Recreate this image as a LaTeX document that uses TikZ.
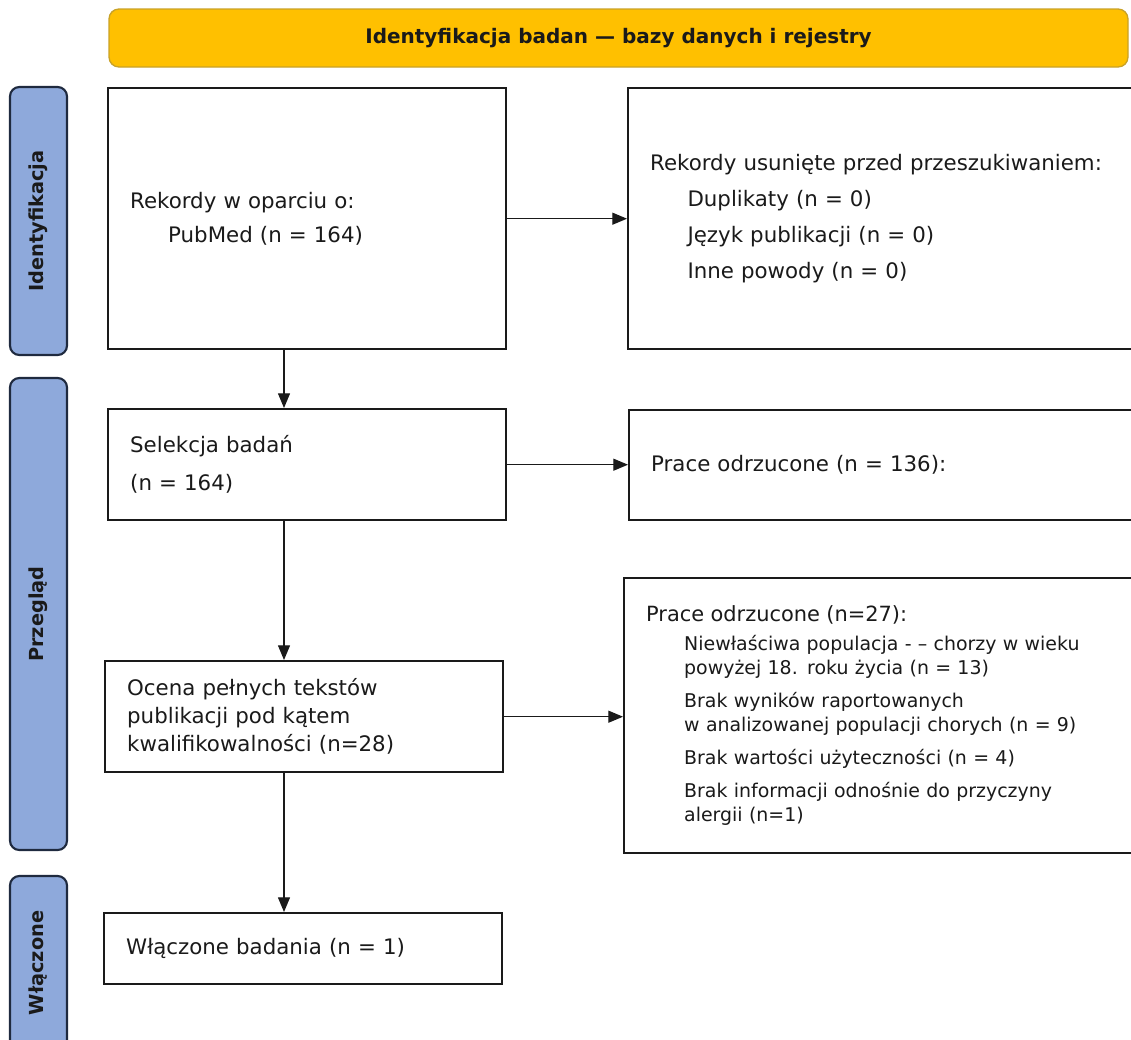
\documentclass[tikz,border=0pt]{standalone}
\usepackage{fontspec}
\setmainfont{DejaVu Sans}
\usepackage{xcolor}
\usepackage{tikz}
\usetikzlibrary{arrows.meta,positioning}
\definecolor{goldx}{HTML}{FFC000}
\definecolor{goldline}{HTML}{C9A227}
\definecolor{bluex}{HTML}{8EA9DB}
\definecolor{navyx}{HTML}{1F2A3F}
\definecolor{inkx}{HTML}{1A1A1A}
\tikzset{
  ar/.style={-{Triangle[length=11pt,width=9pt]},line width=0.9pt,inkx},
  box/.style={draw=inkx,line width=1.8pt,fill=white,anchor=north west,align=left,inner xsep=16.5pt,inner ysep=0pt,text=inkx},
  phase/.style={draw=navyx,line width=1.6pt,fill=bluex,rounded corners=7pt,rotate=90,minimum height=42.75pt,
    font=\bfseries\fontsize{14.5}{17}\selectfont,text=inkx},
  banner/.style={draw=goldline,line width=1pt,fill=goldx,rounded corners=7.5pt,minimum width=764.25pt,minimum height=43.5pt,
    font=\bfseries\fontsize{15}{18}\selectfont,text=inkx}
}

\begin{document}
\begin{tikzpicture}[x=0.75pt,y=-0.75pt]
\useasboundingbox (0,0) rectangle (1131,1039);
\clip (0,0) rectangle (1131,1039);
% header and phase bars
\node[banner] (head) at (618.5,38) {Identyfikacja badan — bazy danych i rejestry};
\node[phase,minimum width=201pt] (phid) at (38.5,221) {Identyfikacja};
\node[phase,minimum width=354pt] (phrev) at (38.5,614) {Przegląd};
\node[phase,minimum width=130.5pt] (phinc) at (38.5,963) {Włączone};
% left column
\node[box,text width=265.5pt,minimum height=195.75pt,font=\fontsize{16}{26}\selectfont] (rec) at (107,87)
  {Rekordy w oparciu o:\\\hspace*{28.5pt}PubMed (n = 164)};
\node[box,text width=265.5pt,minimum height=83.25pt,font=\fontsize{16}{28.5}\selectfont] (sel) at (107,408)
  {Selekcja badań\\(n = 164)};
\node[box,text width=265.5pt,minimum height=83.25pt,font=\fontsize{16}{21}\selectfont] (full) at (104,660)
  {Ocena pełnych tekstów\\publikacji pod kątem\\kwalifikowalności (n=28)};
\node[box,text width=265.5pt,minimum height=53.25pt,font=\fontsize{16}{19}\selectfont] (incl) at (103,912)
  {Włączone badania (n = 1)};
% right column
\node[box,text width=358pt,minimum height=195.75pt,font=\fontsize{16}{27}\selectfont] (removed) at (627,87)
  {Rekordy usunięte przed przeszukiwaniem:\\
   \hspace*{28pt}Duplikaty (n = 0)\\
   \hspace*{28pt}Język publikacji (n = 0)\\
   \hspace*{28pt}Inne powody (n = 0)};
\node[box,text width=358pt,minimum height=82.5pt,font=\fontsize{16}{19}\selectfont] (excl1) at (628,409)
  {Prace odrzucone (n = 136):};
\node[box,text width=361pt,minimum height=206.25pt,font=\fontsize{14.2}{18.4}\selectfont] (excl2) at (623,577)
  {{\fontsize{15.7}{18}\selectfont Prace odrzucone (n=27):}\\[3pt]
   \hspace*{28.5pt}Niewłaściwa populacja - – chorzy w wieku\\
   \hspace*{28.5pt}powyżej 18. roku życia (n = 13)\\[6pt]
   \hspace*{28.5pt}Brak wyników raportowanych\\
   \hspace*{28.5pt}w analizowanej populacji chorych (n = 9)\\[6pt]
   \hspace*{28.5pt}Brak wartości użyteczności (n = 4)\\[6pt]
   \hspace*{28.5pt}Brak informacji odnośnie do przyczyny\\
   \hspace*{28.5pt}alergii (n=1)};
% connectors
\coordinate (ax) at (284,0);
\draw[ar] (rec.south -| ax) -- (sel.north -| ax);
\draw[ar] (sel.south -| ax) -- (full.north -| ax);
\draw[ar] (full.south -| ax) -- (incl.north -| ax);
\draw[ar] (rec.east) -- (removed.west);
\draw[ar] (sel.east) -- (sel.east -| excl1.west);
\draw[ar] (full.east) -- (full.east -| excl2.west);
\end{tikzpicture}
\end{document}
